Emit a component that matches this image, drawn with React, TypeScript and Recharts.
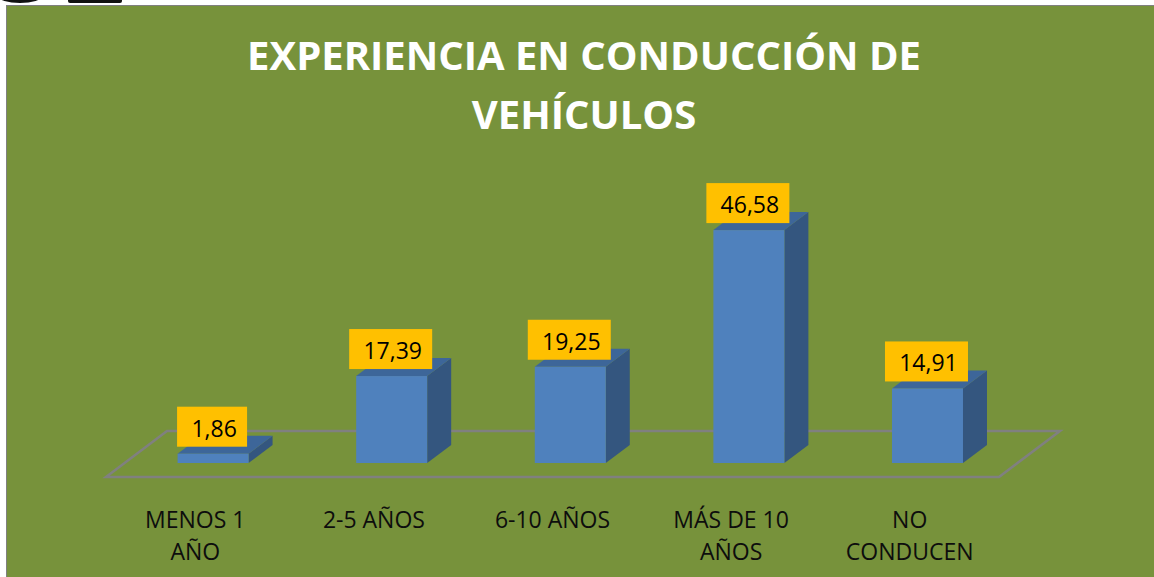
import React from 'react';
import { BarChart, Bar, XAxis, YAxis, ReferenceArea, LabelList } from 'recharts';

const categories = ['MENOS 1\nAÑO', '2-5 AÑOS', '6-10 AÑOS', 'MÁS DE 10\nAÑOS', 'NO\nCONDUCEN'];
const values = [1.86, 17.39, 19.25, 46.58, 14.91];
const valueLabels = ['1,86', '17,39', '19,25', '46,58', '14,91'];
const titleLines = ['EXPERIENCIA EN CONDUCCIÓN DE', 'VEHÍCULOS'];

const data = categories.map((c, i) => ({ name: c, value: values[i], label: valueLabels[i] }));

const W = 1154;
const H = 577;
const GREEN = '#77923B';
const FONT = '"Open Sans", "DejaVu Sans", sans-serif';

// 3D geometry (pixels)
const BAR_DX = 24;
const BAR_DY = -18;

const Bar3D = (props: any) => {
  const { x, y, width, height } = props;
  if (width == null || height == null) return null;
  const front = '#4F81BD';
  const side = '#34567F';
  const top = '#3D6699';
  return (
    <g>
      <polygon
        points={`${x + width},${y} ${x + width + BAR_DX},${y + BAR_DY} ${x + width + BAR_DX},${y + height + BAR_DY} ${x + width},${y + height}`}
        fill={side}
      />
      <polygon
        points={`${x},${y} ${x + BAR_DX},${y + BAR_DY} ${x + width + BAR_DX},${y + BAR_DY} ${x + width},${y}`}
        fill={top}
      />
      <rect x={x} y={y} width={width} height={height} fill={front} />
    </g>
  );
};

const Floor = (props: any) => {
  const { x, y, width, height } = props;
  const bottom = y + height;
  const fy = bottom + 14;
  const by = bottom - 32;
  const fl = x - 18;
  const fr = x + width - 18;
  const bl = x + 43;
  const br = x + width + 43;
  return (
    <polygon
      points={`${fl},${fy} ${fr},${fy} ${br},${by} ${bl},${by}`}
      fill="none"
      stroke="#808080"
      strokeWidth={2.5}
    />
  );
};

const ValueLabel = (props: any) => {
  const { x, y, width, value } = props;
  const s = String(value);
  const boxW = 13 * s.length + 18;
  const cx = x + width / 2 - 1;
  const bottom = y - 7;
  return (
    <g>
      <rect x={cx - boxW / 2} y={bottom - 40} width={boxW} height={40} fill="#FFC000" />
      <text
        x={cx + 2}
        y={bottom - 10}
        textAnchor="middle"
        fontFamily={FONT}
        fontSize={23}
        fill="#000"
      >
        {s}
      </text>
    </g>
  );
};

const Tick = (props: any) => {
  const { x, y, payload } = props;
  const lines = String(payload.value).split('\n');
  return (
    <text
      x={x - 18}
      y={y}
      textAnchor="middle"
      fontFamily={FONT}
      fontSize={23}
      fill="#0D0D0D"
    >
      {lines.map((l, i) => (
        <tspan key={i} x={x - 18} y={y + 57 + i * 32}>
          {l}
        </tspan>
      ))}
    </text>
  );
};

export default function App() {
  return (
    <div style={{ position: 'absolute', left: 0, top: 0, width: W, height: H, background: '#fff', overflow: 'hidden' }}>
      <svg width={W} height={H} style={{ position: 'absolute', left: 0, top: 0 }}>
        <rect x={0} y={0} width={W} height={H} fill="#fff" />
        <ellipse cx={20} cy={-4} rx={22} ry={7} fill="#111" />
        <rect x={68} y={-2} width={54} height={5} rx={2} fill="#111" />
        <rect x={6} y={5} width={W - 6} height={H - 5} fill="#808080" />
        <rect x={7} y={6} width={W - 7} height={H - 6} fill={GREEN} />
      </svg>
      <div style={{ position: 'absolute', left: 0, top: 0 }}>
        <BarChart
          width={W}
          height={H}
          data={data}
          margin={{ top: 163, right: 137, left: 124, bottom: 0 }}
          barCategoryGap="30%"
        >
          <XAxis
            dataKey="name"
            height={114}
            axisLine={false}
            tickLine={false}
            interval={0}
            tick={<Tick />}
          />
          <YAxis hide domain={[0, 60]} />
          <ReferenceArea shape={<Floor />} ifOverflow="visible" />
          <Bar dataKey="value" shape={<Bar3D />} isAnimationActive={false}>
            <LabelList dataKey="label" content={<ValueLabel />} />
          </Bar>
        </BarChart>
      </div>
      <svg width={W} height={H} style={{ position: 'absolute', left: 0, top: 0, pointerEvents: 'none' }}>
        {titleLines.map((t, i) => (
          <text
            key={i}
            x={584}
            y={70 + i * 59}
            textAnchor="middle"
            fontFamily={FONT}
            fontWeight={700}
            fontSize={40}
            fill="#fff"
          >
            {t}
          </text>
        ))}
      </svg>
    </div>
  );
}
